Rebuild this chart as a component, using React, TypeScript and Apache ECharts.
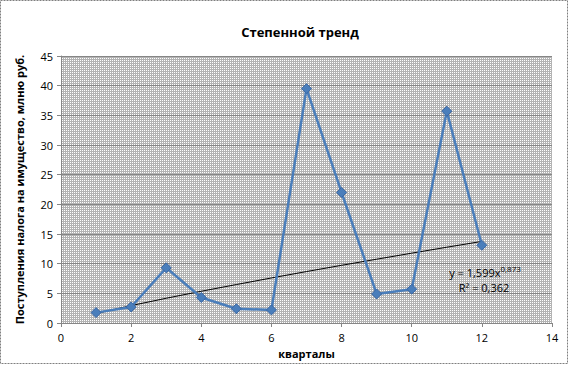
import React, { useEffect, useRef } from "react";
import * as echarts from "echarts";

const quarters = [1, 2, 3, 4, 5, 6, 7, 8, 9, 10, 11, 12];
const taxValues = [1.75, 2.7, 9.3, 4.3, 2.4, 2.2, 39.5, 22.0, 4.9, 5.7, 35.7, 13.1];
const trendValues = [1.6, 2.93, 4.17, 5.35, 6.48, 7.59, 8.67, 9.72, 10.75, 11.77, 12.77, 13.75];
const titleText = "Степенной тренд";
const yName = "Поступления налога на имущество, млню руб.";
const xName = "кварталы";
const eqCoef = "1,599";
const eqExp = "0,873";
const r2Text = "0,362";

function makePattern(): any {
  const c = document.createElement("canvas");
  c.width = 2;
  c.height = 2;
  const ctx = c.getContext("2d")!;
  ctx.fillStyle = "#b3b3b3";
  ctx.fillRect(0, 0, 2, 2);
  ctx.fillStyle = "#ffffff";
  ctx.fillRect(0, 0, 1, 1);
  return { image: c.toDataURL(), repeat: "repeat" };
}

export default function App() {
  const ref = useRef<HTMLDivElement>(null);
  useEffect(() => {
    document.body.style.margin = "0";
    const chart = echarts.init(ref.current!, null, { renderer: "svg" });
    const font = "'Open Sans', 'DejaVu Sans', sans-serif";
    chart.setOption({
      animation: false,
      backgroundColor: "#ffffff",
      textStyle: { fontFamily: font },
      title: {
        text: titleText,
        left: 295,
        top: 20,
        textAlign: "center",
        textStyle: { fontSize: 13, fontWeight: "bold", color: "#000", fontFamily: font },
      },
      grid: {
        left: 61,
        right: 17,
        top: 56,
        bottom: 42,
        show: true,
        borderWidth: 0,
        backgroundColor: makePattern(),
      },
      xAxis: {
        type: "value",
        min: 0,
        max: 14,
        interval: 2,
        name: xName,
        nameLocation: "middle",
        nameGap: 22,
        nameTextStyle: { fontSize: 11, fontWeight: "bold", color: "#000" },
        axisLine: { show: true, onZero: false, lineStyle: { color: "#868686" } },
        axisTick: { show: true, length: 4, lineStyle: { color: "#868686" } },
        axisLabel: { fontSize: 11, color: "#000", margin: 9 },
        splitLine: { show: false },
      },
      yAxis: {
        type: "value",
        min: 0,
        max: 45,
        interval: 5,
        name: yName,
        nameLocation: "middle",
        nameGap: 36,
        nameTextStyle: { fontSize: 11, fontWeight: "bold", color: "#000" },
        axisLine: { show: true, lineStyle: { color: "#868686" } },
        axisTick: { show: true, length: 4, lineStyle: { color: "#868686" } },
        axisLabel: { fontSize: 11, color: "#000", margin: 8 },
        splitLine: { show: true, lineStyle: { color: "#868686", width: 1 } },
      },
      series: [
        {
          type: "line",
          name: "trend",
          data: quarters.map((q, i) => [q, trendValues[i]]),
          symbol: "none",
          lineStyle: { color: "#000", width: 1 },
          z: 3,
        },
        {
          type: "line",
          name: "tax",
          data: quarters.map((q, i) => [q, taxValues[i]]),
          symbol: "diamond",
          symbolSize: 10,
          lineStyle: { color: "#4a7ebb", width: 2.5 },
          itemStyle: { color: "#4a7ebb", borderColor: "#3a67a3", borderWidth: 1 },
          z: 4,
        },
      ],
      graphic: [
        {
          type: "rect",
          shape: { x: 0.5, y: 0.5, width: 567, height: 363 },
          style: { fill: "none", stroke: "#7f7f7f", lineWidth: 1, lineDash: [2, 1] },
          silent: true,
          z: 100,
        },
        {
          type: "text",
          x: 485,
          y: 272,
          style: {
            text: "y = " + eqCoef + "x{sup|" + eqExp + "}",
            align: "center",
            verticalAlign: "middle",
            fontSize: 11,
            fontFamily: font,
            fill: "#000",
            rich: { sup: { fontSize: 8, verticalAlign: "top", padding: [0, 0, 7, 0], fontFamily: font } },
          },
          z: 50,
        },
        {
          type: "text",
          x: 484,
          y: 287,
          style: {
            text: "R² = " + r2Text,
            align: "center",
            verticalAlign: "middle",
            fontSize: 11,
            fontFamily: font,
            fill: "#000",
          },
          z: 50,
        },
      ],
    });
    return () => chart.dispose();
  }, []);
  return (
    <div
      ref={ref}
      style={{ position: "absolute", left: 0, top: 0, width: 569, height: 365 }}
    />
  );
}
